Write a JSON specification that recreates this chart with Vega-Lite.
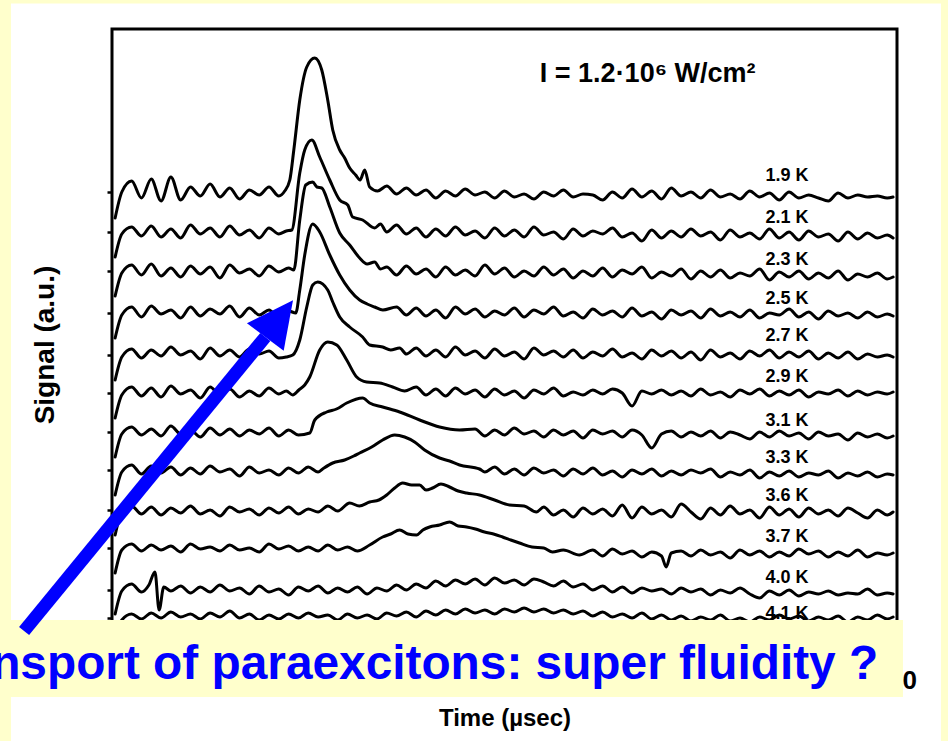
{
  "$schema": "https://vega.github.io/schema/vega-lite/v6.json",
  "width": 785,
  "height": 631,
  "autosize": {"type": "none"},
  "padding": {"left": 112, "top": 29, "right": 51, "bottom": 81},
  "background": "white",
  "config": {
    "font": "Liberation Sans",
    "view": {"stroke": "black", "strokeWidth": 3}
  },
  "layer": [
    {
      "data": {"values": [
        {"k":"1.9 K","t":0.04,"s":44.2},{"k":"1.9 K","t":0.125,"s":46.8},{"k":"1.9 K","t":0.25,"s":47.9},{"k":"1.9 K","t":0.375,"s":46.2},{"k":"1.9 K","t":0.5,"s":48.1},{"k":"1.9 K","t":0.625,"s":45.9},{"k":"1.9 K","t":0.75,"s":48.3},{"k":"1.9 K","t":0.875,"s":46.0},{"k":"1.9 K","t":1,"s":47.3},{"k":"1.9 K","t":1.125,"s":46.4},{"k":"1.9 K","t":1.25,"s":47.6},{"k":"1.9 K","t":1.375,"s":46.3},{"k":"1.9 K","t":1.5,"s":47.2},{"k":"1.9 K","t":1.625,"s":46.1},{"k":"1.9 K","t":1.75,"s":47.0},{"k":"1.9 K","t":1.875,"s":46.5},{"k":"1.9 K","t":2,"s":47.3},{"k":"1.9 K","t":2.125,"s":46.4},{"k":"1.9 K","t":2.2,"s":46.9},{"k":"1.9 K","t":2.265,"s":48.0},{"k":"1.9 K","t":2.316,"s":51.0},{"k":"1.9 K","t":2.392,"s":56.0},{"k":"1.9 K","t":2.481,"s":59.3},{"k":"1.9 K","t":2.583,"s":60.2},{"k":"1.9 K","t":2.672,"s":59.0},{"k":"1.9 K","t":2.748,"s":56.0},{"k":"1.9 K","t":2.812,"s":53.0},{"k":"1.9 K","t":2.901,"s":51.0},{"k":"1.9 K","t":2.964,"s":50.2},{"k":"1.9 K","t":3.028,"s":49.2},{"k":"1.9 K","t":3.104,"s":48.5},{"k":"1.9 K","t":3.16,"s":48.0},{"k":"1.9 K","t":3.219,"s":49.0},{"k":"1.9 K","t":3.282,"s":47.3},{"k":"1.9 K","t":3.384,"s":46.9},{"k":"1.9 K","t":3.5,"s":47.4},{"k":"1.9 K","t":3.625,"s":46.6},{"k":"1.9 K","t":3.75,"s":47.2},{"k":"1.9 K","t":3.875,"s":46.5},{"k":"1.9 K","t":4,"s":47.0},{"k":"1.9 K","t":4.125,"s":46.2},{"k":"1.9 K","t":4.25,"s":46.9},{"k":"1.9 K","t":4.375,"s":46.4},{"k":"1.9 K","t":4.5,"s":47.1},{"k":"1.9 K","t":4.625,"s":46.5},{"k":"1.9 K","t":4.75,"s":46.8},{"k":"1.9 K","t":4.875,"s":46.2},{"k":"1.9 K","t":5,"s":46.9},{"k":"1.9 K","t":5.125,"s":46.3},{"k":"1.9 K","t":5.25,"s":46.6},{"k":"1.9 K","t":5.375,"s":46.1},{"k":"1.9 K","t":5.5,"s":46.8},{"k":"1.9 K","t":5.625,"s":46.4},{"k":"1.9 K","t":5.75,"s":47.0},{"k":"1.9 K","t":5.875,"s":46.3},{"k":"1.9 K","t":6,"s":46.6},{"k":"1.9 K","t":6.125,"s":46.5},{"k":"1.9 K","t":6.25,"s":46.0},{"k":"1.9 K","t":6.375,"s":46.8},{"k":"1.9 K","t":6.5,"s":46.2},{"k":"1.9 K","t":6.625,"s":47.1},{"k":"1.9 K","t":6.75,"s":46.3},{"k":"1.9 K","t":6.875,"s":46.9},{"k":"1.9 K","t":7,"s":46.1},{"k":"1.9 K","t":7.125,"s":47.2},{"k":"1.9 K","t":7.25,"s":46.4},{"k":"1.9 K","t":7.375,"s":46.8},{"k":"1.9 K","t":7.5,"s":46.2},{"k":"1.9 K","t":7.625,"s":47.0},{"k":"1.9 K","t":7.75,"s":46.3},{"k":"1.9 K","t":7.875,"s":46.6},{"k":"1.9 K","t":8,"s":46.1},{"k":"1.9 K","t":8.125,"s":46.9},{"k":"1.9 K","t":8.25,"s":46.3},{"k":"1.9 K","t":8.375,"s":46.7},{"k":"1.9 K","t":8.5,"s":46.0},{"k":"1.9 K","t":8.625,"s":46.8},{"k":"1.9 K","t":8.75,"s":46.2},{"k":"1.9 K","t":8.875,"s":46.5},{"k":"1.9 K","t":9,"s":46.2},{"k":"1.9 K","t":9.125,"s":45.9},{"k":"1.9 K","t":9.25,"s":46.7},{"k":"1.9 K","t":9.375,"s":46.2},{"k":"1.9 K","t":9.5,"s":46.5},{"k":"1.9 K","t":9.625,"s":46.3},{"k":"1.9 K","t":9.75,"s":46.4},{"k":"1.9 K","t":9.875,"s":46.2},{"k":"1.9 K","t":9.95,"s":46.3},

        {"k":"2.1 K","t":0.04,"s":40.3},{"k":"2.1 K","t":0.125,"s":42.6},{"k":"2.1 K","t":0.25,"s":43.3},{"k":"2.1 K","t":0.375,"s":42.4},{"k":"2.1 K","t":0.5,"s":43.4},{"k":"2.1 K","t":0.625,"s":42.3},{"k":"2.1 K","t":0.75,"s":43.1},{"k":"2.1 K","t":0.875,"s":42.2},{"k":"2.1 K","t":1,"s":43.5},{"k":"2.1 K","t":1.125,"s":42.6},{"k":"2.1 K","t":1.25,"s":43.2},{"k":"2.1 K","t":1.375,"s":42.3},{"k":"2.1 K","t":1.5,"s":43.4},{"k":"2.1 K","t":1.625,"s":42.5},{"k":"2.1 K","t":1.75,"s":43.0},{"k":"2.1 K","t":1.875,"s":42.2},{"k":"2.1 K","t":2,"s":43.2},{"k":"2.1 K","t":2.125,"s":42.6},{"k":"2.1 K","t":2.22,"s":42.9},{"k":"2.1 K","t":2.29,"s":43.0},{"k":"2.1 K","t":2.392,"s":48.7},{"k":"2.1 K","t":2.455,"s":51.0},{"k":"2.1 K","t":2.545,"s":52.0},{"k":"2.1 K","t":2.646,"s":50.3},{"k":"2.1 K","t":2.774,"s":48.0},{"k":"2.1 K","t":2.901,"s":46.0},{"k":"2.1 K","t":3.003,"s":45.5},{"k":"2.1 K","t":3.066,"s":44.3},{"k":"2.1 K","t":3.193,"s":44.0},{"k":"2.1 K","t":3.346,"s":43.2},{"k":"2.1 K","t":3.42,"s":43.6},{"k":"2.1 K","t":3.5,"s":42.8},{"k":"2.1 K","t":3.625,"s":43.5},{"k":"2.1 K","t":3.75,"s":42.6},{"k":"2.1 K","t":3.875,"s":43.2},{"k":"2.1 K","t":4,"s":42.3},{"k":"2.1 K","t":4.125,"s":43.1},{"k":"2.1 K","t":4.25,"s":42.4},{"k":"2.1 K","t":4.375,"s":43.3},{"k":"2.1 K","t":4.5,"s":42.5},{"k":"2.1 K","t":4.625,"s":42.9},{"k":"2.1 K","t":4.75,"s":42.2},{"k":"2.1 K","t":4.875,"s":43.2},{"k":"2.1 K","t":5,"s":42.4},{"k":"2.1 K","t":5.125,"s":43.0},{"k":"2.1 K","t":5.25,"s":42.3},{"k":"2.1 K","t":5.375,"s":43.3},{"k":"2.1 K","t":5.5,"s":42.5},{"k":"2.1 K","t":5.625,"s":42.8},{"k":"2.1 K","t":5.75,"s":42.1},{"k":"2.1 K","t":5.875,"s":43.1},{"k":"2.1 K","t":6,"s":42.4},{"k":"2.1 K","t":6.125,"s":42.9},{"k":"2.1 K","t":6.25,"s":42.6},{"k":"2.1 K","t":6.375,"s":43.2},{"k":"2.1 K","t":6.5,"s":42.3},{"k":"2.1 K","t":6.625,"s":42.7},{"k":"2.1 K","t":6.75,"s":41.9},{"k":"2.1 K","t":6.875,"s":43.0},{"k":"2.1 K","t":7,"s":42.2},{"k":"2.1 K","t":7.125,"s":42.9},{"k":"2.1 K","t":7.25,"s":42.3},{"k":"2.1 K","t":7.375,"s":43.1},{"k":"2.1 K","t":7.5,"s":42.4},{"k":"2.1 K","t":7.625,"s":42.8},{"k":"2.1 K","t":7.75,"s":42.0},{"k":"2.1 K","t":7.875,"s":43.0},{"k":"2.1 K","t":8,"s":42.3},{"k":"2.1 K","t":8.125,"s":42.7},{"k":"2.1 K","t":8.25,"s":42.1},{"k":"2.1 K","t":8.375,"s":43.1},{"k":"2.1 K","t":8.5,"s":42.2},{"k":"2.1 K","t":8.625,"s":42.8},{"k":"2.1 K","t":8.75,"s":42.0},{"k":"2.1 K","t":8.875,"s":42.9},{"k":"2.1 K","t":9,"s":42.3},{"k":"2.1 K","t":9.125,"s":42.6},{"k":"2.1 K","t":9.25,"s":41.9},{"k":"2.1 K","t":9.375,"s":42.8},{"k":"2.1 K","t":9.5,"s":42.1},{"k":"2.1 K","t":9.625,"s":42.7},{"k":"2.1 K","t":9.75,"s":42.2},{"k":"2.1 K","t":9.875,"s":42.5},{"k":"2.1 K","t":9.95,"s":42.2},

        {"k":"2.3 K","t":0.04,"s":36.4},{"k":"2.3 K","t":0.125,"s":38.7},{"k":"2.3 K","t":0.25,"s":39.5},{"k":"2.3 K","t":0.375,"s":38.5},{"k":"2.3 K","t":0.5,"s":39.6},{"k":"2.3 K","t":0.625,"s":38.4},{"k":"2.3 K","t":0.75,"s":39.2},{"k":"2.3 K","t":0.875,"s":38.3},{"k":"2.3 K","t":1,"s":39.4},{"k":"2.3 K","t":1.125,"s":38.6},{"k":"2.3 K","t":1.25,"s":39.3},{"k":"2.3 K","t":1.375,"s":38.2},{"k":"2.3 K","t":1.5,"s":39.5},{"k":"2.3 K","t":1.625,"s":38.7},{"k":"2.3 K","t":1.75,"s":39.1},{"k":"2.3 K","t":1.875,"s":38.4},{"k":"2.3 K","t":2,"s":39.4},{"k":"2.3 K","t":2.125,"s":38.8},{"k":"2.3 K","t":2.25,"s":39.2},{"k":"2.3 K","t":2.316,"s":39.0},{"k":"2.3 K","t":2.392,"s":44.0},{"k":"2.3 K","t":2.468,"s":47.5},{"k":"2.3 K","t":2.557,"s":47.8},{"k":"2.3 K","t":2.61,"s":47.3},{"k":"2.3 K","t":2.672,"s":47.2},{"k":"2.3 K","t":2.774,"s":45.3},{"k":"2.3 K","t":2.901,"s":42.7},{"k":"2.3 K","t":3.028,"s":41.5},{"k":"2.3 K","t":3.155,"s":40.2},{"k":"2.3 K","t":3.25,"s":39.6},{"k":"2.3 K","t":3.346,"s":39.8},{"k":"2.3 K","t":3.42,"s":39.1},{"k":"2.3 K","t":3.5,"s":39.3},{"k":"2.3 K","t":3.625,"s":38.5},{"k":"2.3 K","t":3.75,"s":39.4},{"k":"2.3 K","t":3.875,"s":38.6},{"k":"2.3 K","t":4,"s":39.1},{"k":"2.3 K","t":4.125,"s":38.3},{"k":"2.3 K","t":4.25,"s":39.3},{"k":"2.3 K","t":4.375,"s":38.5},{"k":"2.3 K","t":4.5,"s":39.0},{"k":"2.3 K","t":4.625,"s":38.4},{"k":"2.3 K","t":4.75,"s":39.5},{"k":"2.3 K","t":4.875,"s":38.6},{"k":"2.3 K","t":5,"s":39.2},{"k":"2.3 K","t":5.125,"s":38.3},{"k":"2.3 K","t":5.25,"s":38.9},{"k":"2.3 K","t":5.375,"s":38.4},{"k":"2.3 K","t":5.5,"s":39.3},{"k":"2.3 K","t":5.625,"s":38.5},{"k":"2.3 K","t":5.75,"s":39.1},{"k":"2.3 K","t":5.875,"s":38.2},{"k":"2.3 K","t":6,"s":38.9},{"k":"2.3 K","t":6.125,"s":38.4},{"k":"2.3 K","t":6.25,"s":39.2},{"k":"2.3 K","t":6.375,"s":38.3},{"k":"2.3 K","t":6.5,"s":39.0},{"k":"2.3 K","t":6.625,"s":38.6},{"k":"2.3 K","t":6.75,"s":39.3},{"k":"2.3 K","t":6.875,"s":38.2},{"k":"2.3 K","t":7,"s":38.8},{"k":"2.3 K","t":7.125,"s":38.4},{"k":"2.3 K","t":7.25,"s":39.1},{"k":"2.3 K","t":7.375,"s":38.1},{"k":"2.3 K","t":7.5,"s":38.9},{"k":"2.3 K","t":7.625,"s":38.3},{"k":"2.3 K","t":7.75,"s":39.0},{"k":"2.3 K","t":7.875,"s":38.2},{"k":"2.3 K","t":8,"s":38.7},{"k":"2.3 K","t":8.125,"s":38.4},{"k":"2.3 K","t":8.25,"s":39.1},{"k":"2.3 K","t":8.375,"s":38.0},{"k":"2.3 K","t":8.5,"s":38.8},{"k":"2.3 K","t":8.625,"s":38.3},{"k":"2.3 K","t":8.75,"s":38.9},{"k":"2.3 K","t":8.875,"s":38.1},{"k":"2.3 K","t":9,"s":38.7},{"k":"2.3 K","t":9.125,"s":38.2},{"k":"2.3 K","t":9.25,"s":38.9},{"k":"2.3 K","t":9.375,"s":38.0},{"k":"2.3 K","t":9.5,"s":38.6},{"k":"2.3 K","t":9.625,"s":38.3},{"k":"2.3 K","t":9.75,"s":38.7},{"k":"2.3 K","t":9.875,"s":38.1},{"k":"2.3 K","t":9.95,"s":38.3},

        {"k":"2.5 K","t":0.04,"s":32.2},{"k":"2.5 K","t":0.125,"s":34.5},{"k":"2.5 K","t":0.25,"s":35.3},{"k":"2.5 K","t":0.375,"s":34.3},{"k":"2.5 K","t":0.5,"s":35.4},{"k":"2.5 K","t":0.625,"s":34.6},{"k":"2.5 K","t":0.75,"s":35.0},{"k":"2.5 K","t":0.875,"s":34.2},{"k":"2.5 K","t":1,"s":35.3},{"k":"2.5 K","t":1.125,"s":34.4},{"k":"2.5 K","t":1.25,"s":35.1},{"k":"2.5 K","t":1.375,"s":34.6},{"k":"2.5 K","t":1.5,"s":35.4},{"k":"2.5 K","t":1.625,"s":34.3},{"k":"2.5 K","t":1.75,"s":35.2},{"k":"2.5 K","t":1.875,"s":34.5},{"k":"2.5 K","t":2,"s":35.0},{"k":"2.5 K","t":2.125,"s":34.2},{"k":"2.5 K","t":2.25,"s":34.9},{"k":"2.5 K","t":2.341,"s":34.7},{"k":"2.5 K","t":2.392,"s":37.0},{"k":"2.5 K","t":2.455,"s":40.5},{"k":"2.5 K","t":2.557,"s":43.6},{"k":"2.5 K","t":2.646,"s":42.8},{"k":"2.5 K","t":2.774,"s":40.5},{"k":"2.5 K","t":2.901,"s":38.5},{"k":"2.5 K","t":3.028,"s":37.0},{"k":"2.5 K","t":3.155,"s":36.0},{"k":"2.5 K","t":3.25,"s":35.6},{"k":"2.5 K","t":3.346,"s":35.3},{"k":"2.5 K","t":3.45,"s":35.0},{"k":"2.5 K","t":3.625,"s":35.3},{"k":"2.5 K","t":3.75,"s":34.5},{"k":"2.5 K","t":3.875,"s":35.2},{"k":"2.5 K","t":4,"s":34.4},{"k":"2.5 K","t":4.125,"s":35.0},{"k":"2.5 K","t":4.25,"s":34.2},{"k":"2.5 K","t":4.375,"s":35.3},{"k":"2.5 K","t":4.5,"s":34.6},{"k":"2.5 K","t":4.625,"s":35.1},{"k":"2.5 K","t":4.75,"s":34.3},{"k":"2.5 K","t":4.875,"s":34.9},{"k":"2.5 K","t":5,"s":34.5},{"k":"2.5 K","t":5.125,"s":35.2},{"k":"2.5 K","t":5.25,"s":34.3},{"k":"2.5 K","t":5.375,"s":35.0},{"k":"2.5 K","t":5.5,"s":34.6},{"k":"2.5 K","t":5.625,"s":35.3},{"k":"2.5 K","t":5.75,"s":34.4},{"k":"2.5 K","t":5.875,"s":34.8},{"k":"2.5 K","t":6,"s":34.2},{"k":"2.5 K","t":6.125,"s":35.1},{"k":"2.5 K","t":6.25,"s":34.5},{"k":"2.5 K","t":6.375,"s":34.9},{"k":"2.5 K","t":6.5,"s":34.3},{"k":"2.5 K","t":6.625,"s":35.2},{"k":"2.5 K","t":6.75,"s":34.4},{"k":"2.5 K","t":6.875,"s":34.8},{"k":"2.5 K","t":7,"s":34.1},{"k":"2.5 K","t":7.125,"s":35.0},{"k":"2.5 K","t":7.25,"s":34.5},{"k":"2.5 K","t":7.375,"s":34.9},{"k":"2.5 K","t":7.5,"s":34.2},{"k":"2.5 K","t":7.625,"s":35.1},{"k":"2.5 K","t":7.75,"s":34.4},{"k":"2.5 K","t":7.875,"s":34.8},{"k":"2.5 K","t":8,"s":34.3},{"k":"2.5 K","t":8.125,"s":35.0},{"k":"2.5 K","t":8.25,"s":34.2},{"k":"2.5 K","t":8.375,"s":34.7},{"k":"2.5 K","t":8.5,"s":34.5},{"k":"2.5 K","t":8.625,"s":35.1},{"k":"2.5 K","t":8.75,"s":34.3},{"k":"2.5 K","t":8.875,"s":34.8},{"k":"2.5 K","t":9,"s":34.1},{"k":"2.5 K","t":9.125,"s":34.9},{"k":"2.5 K","t":9.25,"s":34.4},{"k":"2.5 K","t":9.375,"s":34.7},{"k":"2.5 K","t":9.5,"s":34.2},{"k":"2.5 K","t":9.625,"s":34.8},{"k":"2.5 K","t":9.75,"s":34.3},{"k":"2.5 K","t":9.875,"s":34.6},{"k":"2.5 K","t":9.95,"s":34.4},

        {"k":"2.7 K","t":0.04,"s":28.0},{"k":"2.7 K","t":0.125,"s":30.3},{"k":"2.7 K","t":0.25,"s":31.1},{"k":"2.7 K","t":0.375,"s":30.2},{"k":"2.7 K","t":0.5,"s":31.0},{"k":"2.7 K","t":0.625,"s":30.4},{"k":"2.7 K","t":0.75,"s":31.3},{"k":"2.7 K","t":0.875,"s":30.5},{"k":"2.7 K","t":1,"s":30.9},{"k":"2.7 K","t":1.125,"s":30.1},{"k":"2.7 K","t":1.25,"s":31.2},{"k":"2.7 K","t":1.375,"s":30.4},{"k":"2.7 K","t":1.5,"s":31.0},{"k":"2.7 K","t":1.625,"s":30.3},{"k":"2.7 K","t":1.75,"s":31.1},{"k":"2.7 K","t":1.875,"s":30.6},{"k":"2.7 K","t":2,"s":30.9},{"k":"2.7 K","t":2.125,"s":30.2},{"k":"2.7 K","t":2.22,"s":30.3},{"k":"2.7 K","t":2.303,"s":30.5},{"k":"2.7 K","t":2.392,"s":32.0},{"k":"2.7 K","t":2.481,"s":35.3},{"k":"2.7 K","t":2.557,"s":37.5},{"k":"2.7 K","t":2.621,"s":37.8},{"k":"2.7 K","t":2.748,"s":37.0},{"k":"2.7 K","t":2.812,"s":35.8},{"k":"2.7 K","t":2.901,"s":34.3},{"k":"2.7 K","t":3.028,"s":33.3},{"k":"2.7 K","t":3.193,"s":32.3},{"k":"2.7 K","t":3.282,"s":31.5},{"k":"2.7 K","t":3.448,"s":31.3},{"k":"2.7 K","t":3.55,"s":31.0},{"k":"2.7 K","t":3.664,"s":31.2},{"k":"2.7 K","t":3.75,"s":30.6},{"k":"2.7 K","t":3.875,"s":31.2},{"k":"2.7 K","t":4,"s":30.4},{"k":"2.7 K","t":4.125,"s":31.0},{"k":"2.7 K","t":4.25,"s":30.3},{"k":"2.7 K","t":4.375,"s":31.3},{"k":"2.7 K","t":4.5,"s":30.5},{"k":"2.7 K","t":4.625,"s":30.9},{"k":"2.7 K","t":4.75,"s":30.2},{"k":"2.7 K","t":4.875,"s":31.1},{"k":"2.7 K","t":5,"s":30.4},{"k":"2.7 K","t":5.125,"s":30.8},{"k":"2.7 K","t":5.25,"s":30.1},{"k":"2.7 K","t":5.375,"s":31.2},{"k":"2.7 K","t":5.5,"s":30.5},{"k":"2.7 K","t":5.625,"s":30.9},{"k":"2.7 K","t":5.75,"s":30.3},{"k":"2.7 K","t":5.875,"s":31.0},{"k":"2.7 K","t":6,"s":30.2},{"k":"2.7 K","t":6.125,"s":30.8},{"k":"2.7 K","t":6.25,"s":30.4},{"k":"2.7 K","t":6.375,"s":31.1},{"k":"2.7 K","t":6.5,"s":30.3},{"k":"2.7 K","t":6.625,"s":30.7},{"k":"2.7 K","t":6.75,"s":30.1},{"k":"2.7 K","t":6.875,"s":31.0},{"k":"2.7 K","t":7,"s":30.4},{"k":"2.7 K","t":7.125,"s":30.9},{"k":"2.7 K","t":7.25,"s":30.2},{"k":"2.7 K","t":7.375,"s":30.8},{"k":"2.7 K","t":7.5,"s":30.0},{"k":"2.7 K","t":7.625,"s":31.0},{"k":"2.7 K","t":7.75,"s":30.3},{"k":"2.7 K","t":7.875,"s":30.7},{"k":"2.7 K","t":8,"s":30.1},{"k":"2.7 K","t":8.125,"s":30.9},{"k":"2.7 K","t":8.25,"s":30.4},{"k":"2.7 K","t":8.375,"s":31.0},{"k":"2.7 K","t":8.5,"s":30.2},{"k":"2.7 K","t":8.625,"s":30.8},{"k":"2.7 K","t":8.75,"s":30.3},{"k":"2.7 K","t":8.875,"s":30.9},{"k":"2.7 K","t":9,"s":30.1},{"k":"2.7 K","t":9.125,"s":30.7},{"k":"2.7 K","t":9.25,"s":30.2},{"k":"2.7 K","t":9.375,"s":30.8},{"k":"2.7 K","t":9.5,"s":30.1},{"k":"2.7 K","t":9.625,"s":30.6},{"k":"2.7 K","t":9.75,"s":30.3},{"k":"2.7 K","t":9.875,"s":30.5},{"k":"2.7 K","t":9.95,"s":30.3},

        {"k":"2.9 K","t":0.04,"s":24.2},{"k":"2.9 K","t":0.125,"s":26.5},{"k":"2.9 K","t":0.25,"s":27.3},{"k":"2.9 K","t":0.375,"s":26.4},{"k":"2.9 K","t":0.5,"s":27.2},{"k":"2.9 K","t":0.625,"s":26.3},{"k":"2.9 K","t":0.75,"s":27.4},{"k":"2.9 K","t":0.875,"s":26.6},{"k":"2.9 K","t":1,"s":27.0},{"k":"2.9 K","t":1.125,"s":26.2},{"k":"2.9 K","t":1.25,"s":27.3},{"k":"2.9 K","t":1.375,"s":26.5},{"k":"2.9 K","t":1.5,"s":27.1},{"k":"2.9 K","t":1.625,"s":26.3},{"k":"2.9 K","t":1.75,"s":26.9},{"k":"2.9 K","t":1.875,"s":26.4},{"k":"2.9 K","t":2,"s":27.2},{"k":"2.9 K","t":2.125,"s":26.6},{"k":"2.9 K","t":2.22,"s":26.9},{"k":"2.9 K","t":2.303,"s":26.5},{"k":"2.9 K","t":2.38,"s":27.0},{"k":"2.9 K","t":2.455,"s":27.5},{"k":"2.9 K","t":2.519,"s":28.3},{"k":"2.9 K","t":2.646,"s":31.0},{"k":"2.9 K","t":2.748,"s":31.8},{"k":"2.9 K","t":2.863,"s":31.5},{"k":"2.9 K","t":2.99,"s":30.0},{"k":"2.9 K","t":3.117,"s":28.3},{"k":"2.9 K","t":3.244,"s":27.8},{"k":"2.9 K","t":3.41,"s":27.7},{"k":"2.9 K","t":3.575,"s":27.3},{"k":"2.9 K","t":3.728,"s":26.9},{"k":"2.9 K","t":3.875,"s":27.3},{"k":"2.9 K","t":4,"s":26.5},{"k":"2.9 K","t":4.125,"s":27.1},{"k":"2.9 K","t":4.25,"s":26.4},{"k":"2.9 K","t":4.375,"s":27.2},{"k":"2.9 K","t":4.5,"s":26.6},{"k":"2.9 K","t":4.625,"s":27.0},{"k":"2.9 K","t":4.75,"s":26.3},{"k":"2.9 K","t":4.875,"s":27.1},{"k":"2.9 K","t":5,"s":26.5},{"k":"2.9 K","t":5.125,"s":26.9},{"k":"2.9 K","t":5.25,"s":26.2},{"k":"2.9 K","t":5.375,"s":27.0},{"k":"2.9 K","t":5.5,"s":26.6},{"k":"2.9 K","t":5.625,"s":27.2},{"k":"2.9 K","t":5.75,"s":26.4},{"k":"2.9 K","t":5.875,"s":26.8},{"k":"2.9 K","t":6,"s":26.5},{"k":"2.9 K","t":6.125,"s":27.0},{"k":"2.9 K","t":6.25,"s":26.6},{"k":"2.9 K","t":6.375,"s":27.1},{"k":"2.9 K","t":6.5,"s":26.7},{"k":"2.9 K","t":6.625,"s":25.4},{"k":"2.9 K","t":6.75,"s":26.9},{"k":"2.9 K","t":6.875,"s":26.6},{"k":"2.9 K","t":7,"s":27.0},{"k":"2.9 K","t":7.125,"s":26.5},{"k":"2.9 K","t":7.25,"s":26.9},{"k":"2.9 K","t":7.375,"s":26.4},{"k":"2.9 K","t":7.5,"s":27.1},{"k":"2.9 K","t":7.625,"s":26.5},{"k":"2.9 K","t":7.75,"s":26.8},{"k":"2.9 K","t":7.875,"s":26.3},{"k":"2.9 K","t":8,"s":27.0},{"k":"2.9 K","t":8.125,"s":26.6},{"k":"2.9 K","t":8.25,"s":27.1},{"k":"2.9 K","t":8.375,"s":26.4},{"k":"2.9 K","t":8.5,"s":26.9},{"k":"2.9 K","t":8.625,"s":26.5},{"k":"2.9 K","t":8.75,"s":27.0},{"k":"2.9 K","t":8.875,"s":26.3},{"k":"2.9 K","t":9,"s":26.8},{"k":"2.9 K","t":9.125,"s":26.6},{"k":"2.9 K","t":9.25,"s":27.0},{"k":"2.9 K","t":9.375,"s":26.4},{"k":"2.9 K","t":9.5,"s":26.9},{"k":"2.9 K","t":9.625,"s":26.5},{"k":"2.9 K","t":9.75,"s":26.8},{"k":"2.9 K","t":9.875,"s":26.6},{"k":"2.9 K","t":9.95,"s":26.8},

        {"k":"3.1 K","t":0.04,"s":20.3},{"k":"3.1 K","t":0.125,"s":22.6},{"k":"3.1 K","t":0.25,"s":23.3},{"k":"3.1 K","t":0.375,"s":22.5},{"k":"3.1 K","t":0.5,"s":23.1},{"k":"3.1 K","t":0.625,"s":22.4},{"k":"3.1 K","t":0.75,"s":23.4},{"k":"3.1 K","t":0.875,"s":22.6},{"k":"3.1 K","t":1,"s":23.0},{"k":"3.1 K","t":1.125,"s":22.3},{"k":"3.1 K","t":1.25,"s":23.2},{"k":"3.1 K","t":1.375,"s":22.5},{"k":"3.1 K","t":1.5,"s":23.1},{"k":"3.1 K","t":1.625,"s":22.4},{"k":"3.1 K","t":1.75,"s":23.0},{"k":"3.1 K","t":1.875,"s":22.6},{"k":"3.1 K","t":2,"s":23.2},{"k":"3.1 K","t":2.125,"s":22.4},{"k":"3.1 K","t":2.25,"s":23.0},{"k":"3.1 K","t":2.375,"s":22.5},{"k":"3.1 K","t":2.519,"s":22.7},{"k":"3.1 K","t":2.583,"s":24.0},{"k":"3.1 K","t":2.735,"s":24.8},{"k":"3.1 K","t":2.86,"s":25.1},{"k":"3.1 K","t":2.99,"s":25.7},{"k":"3.1 K","t":3.193,"s":26.2},{"k":"3.1 K","t":3.282,"s":25.7},{"k":"3.1 K","t":3.448,"s":25.3},{"k":"3.1 K","t":3.664,"s":24.8},{"k":"3.1 K","t":3.919,"s":24.0},{"k":"3.1 K","t":4.173,"s":23.3},{"k":"3.1 K","t":4.427,"s":23.0},{"k":"3.1 K","t":4.625,"s":23.1},{"k":"3.1 K","t":4.75,"s":22.4},{"k":"3.1 K","t":4.875,"s":23.0},{"k":"3.1 K","t":5,"s":22.5},{"k":"3.1 K","t":5.125,"s":23.2},{"k":"3.1 K","t":5.25,"s":22.6},{"k":"3.1 K","t":5.375,"s":22.9},{"k":"3.1 K","t":5.5,"s":22.3},{"k":"3.1 K","t":5.625,"s":23.0},{"k":"3.1 K","t":5.75,"s":22.5},{"k":"3.1 K","t":5.875,"s":22.9},{"k":"3.1 K","t":6,"s":22.2},{"k":"3.1 K","t":6.125,"s":23.0},{"k":"3.1 K","t":6.25,"s":22.6},{"k":"3.1 K","t":6.375,"s":22.9},{"k":"3.1 K","t":6.5,"s":22.3},{"k":"3.1 K","t":6.625,"s":23.0},{"k":"3.1 K","t":6.75,"s":22.5},{"k":"3.1 K","t":6.875,"s":21.2},{"k":"3.1 K","t":7,"s":22.6},{"k":"3.1 K","t":7.125,"s":22.9},{"k":"3.1 K","t":7.25,"s":22.3},{"k":"3.1 K","t":7.375,"s":22.8},{"k":"3.1 K","t":7.5,"s":22.4},{"k":"3.1 K","t":7.625,"s":22.9},{"k":"3.1 K","t":7.75,"s":22.2},{"k":"3.1 K","t":7.875,"s":22.8},{"k":"3.1 K","t":8,"s":22.5},{"k":"3.1 K","t":8.125,"s":22.1},{"k":"3.1 K","t":8.25,"s":22.8},{"k":"3.1 K","t":8.375,"s":22.3},{"k":"3.1 K","t":8.5,"s":22.9},{"k":"3.1 K","t":8.625,"s":22.4},{"k":"3.1 K","t":8.75,"s":22.7},{"k":"3.1 K","t":8.875,"s":22.1},{"k":"3.1 K","t":9,"s":22.8},{"k":"3.1 K","t":9.125,"s":22.4},{"k":"3.1 K","t":9.25,"s":22.6},{"k":"3.1 K","t":9.375,"s":22.0},{"k":"3.1 K","t":9.5,"s":22.7},{"k":"3.1 K","t":9.625,"s":22.3},{"k":"3.1 K","t":9.75,"s":22.6},{"k":"3.1 K","t":9.875,"s":22.2},{"k":"3.1 K","t":9.95,"s":22.4},

        {"k":"3.3 K","t":0.04,"s":16.5},{"k":"3.3 K","t":0.125,"s":18.8},{"k":"3.3 K","t":0.25,"s":19.5},{"k":"3.3 K","t":0.375,"s":18.6},{"k":"3.3 K","t":0.5,"s":19.4},{"k":"3.3 K","t":0.625,"s":18.7},{"k":"3.3 K","t":0.75,"s":19.3},{"k":"3.3 K","t":0.875,"s":18.5},{"k":"3.3 K","t":1,"s":19.2},{"k":"3.3 K","t":1.125,"s":18.6},{"k":"3.3 K","t":1.25,"s":19.4},{"k":"3.3 K","t":1.375,"s":18.8},{"k":"3.3 K","t":1.5,"s":19.1},{"k":"3.3 K","t":1.625,"s":18.4},{"k":"3.3 K","t":1.75,"s":19.3},{"k":"3.3 K","t":1.875,"s":18.7},{"k":"3.3 K","t":2,"s":19.0},{"k":"3.3 K","t":2.125,"s":18.5},{"k":"3.3 K","t":2.25,"s":19.2},{"k":"3.3 K","t":2.375,"s":18.7},{"k":"3.3 K","t":2.5,"s":19.3},{"k":"3.3 K","t":2.625,"s":18.8},{"k":"3.3 K","t":2.7,"s":19.2},{"k":"3.3 K","t":2.812,"s":19.7},{"k":"3.3 K","t":2.964,"s":20.0},{"k":"3.3 K","t":3.08,"s":20.4},{"k":"3.3 K","t":3.155,"s":20.7},{"k":"3.3 K","t":3.308,"s":21.3},{"k":"3.3 K","t":3.448,"s":22.0},{"k":"3.3 K","t":3.601,"s":22.5},{"k":"3.3 K","t":3.728,"s":22.3},{"k":"3.3 K","t":3.855,"s":21.8},{"k":"3.3 K","t":3.982,"s":21.0},{"k":"3.3 K","t":4.173,"s":20.2},{"k":"3.3 K","t":4.3,"s":19.9},{"k":"3.3 K","t":4.427,"s":19.5},{"k":"3.3 K","t":4.682,"s":19.1},{"k":"3.3 K","t":4.75,"s":18.8},{"k":"3.3 K","t":4.875,"s":19.3},{"k":"3.3 K","t":5,"s":18.6},{"k":"3.3 K","t":5.125,"s":19.1},{"k":"3.3 K","t":5.25,"s":18.5},{"k":"3.3 K","t":5.375,"s":19.2},{"k":"3.3 K","t":5.5,"s":18.7},{"k":"3.3 K","t":5.625,"s":19.0},{"k":"3.3 K","t":5.75,"s":18.4},{"k":"3.3 K","t":5.875,"s":19.1},{"k":"3.3 K","t":6,"s":18.6},{"k":"3.3 K","t":6.125,"s":19.2},{"k":"3.3 K","t":6.25,"s":18.5},{"k":"3.3 K","t":6.375,"s":18.9},{"k":"3.3 K","t":6.5,"s":18.3},{"k":"3.3 K","t":6.625,"s":19.0},{"k":"3.3 K","t":6.75,"s":18.6},{"k":"3.3 K","t":6.875,"s":19.1},{"k":"3.3 K","t":7,"s":18.4},{"k":"3.3 K","t":7.125,"s":18.9},{"k":"3.3 K","t":7.25,"s":18.5},{"k":"3.3 K","t":7.375,"s":19.0},{"k":"3.3 K","t":7.5,"s":18.7},{"k":"3.3 K","t":7.625,"s":19.1},{"k":"3.3 K","t":7.75,"s":18.3},{"k":"3.3 K","t":7.875,"s":18.8},{"k":"3.3 K","t":8,"s":18.5},{"k":"3.3 K","t":8.125,"s":19.0},{"k":"3.3 K","t":8.25,"s":18.2},{"k":"3.3 K","t":8.375,"s":18.8},{"k":"3.3 K","t":8.5,"s":18.4},{"k":"3.3 K","t":8.625,"s":18.9},{"k":"3.3 K","t":8.75,"s":18.3},{"k":"3.3 K","t":8.875,"s":18.7},{"k":"3.3 K","t":9,"s":18.5},{"k":"3.3 K","t":9.125,"s":18.9},{"k":"3.3 K","t":9.25,"s":18.2},{"k":"3.3 K","t":9.375,"s":18.7},{"k":"3.3 K","t":9.5,"s":18.4},{"k":"3.3 K","t":9.625,"s":18.8},{"k":"3.3 K","t":9.75,"s":18.3},{"k":"3.3 K","t":9.875,"s":18.6},{"k":"3.3 K","t":9.95,"s":18.5},

        {"k":"3.6 K","t":0.04,"s":12.5},{"k":"3.6 K","t":0.125,"s":14.8},{"k":"3.6 K","t":0.25,"s":15.4},{"k":"3.6 K","t":0.375,"s":14.6},{"k":"3.6 K","t":0.5,"s":15.3},{"k":"3.6 K","t":0.625,"s":14.5},{"k":"3.6 K","t":0.75,"s":15.2},{"k":"3.6 K","t":0.875,"s":14.7},{"k":"3.6 K","t":1,"s":15.4},{"k":"3.6 K","t":1.125,"s":14.6},{"k":"3.6 K","t":1.25,"s":15.0},{"k":"3.6 K","t":1.375,"s":14.4},{"k":"3.6 K","t":1.5,"s":15.3},{"k":"3.6 K","t":1.625,"s":14.8},{"k":"3.6 K","t":1.75,"s":15.1},{"k":"3.6 K","t":1.875,"s":14.5},{"k":"3.6 K","t":2,"s":15.2},{"k":"3.6 K","t":2.125,"s":14.7},{"k":"3.6 K","t":2.25,"s":15.3},{"k":"3.6 K","t":2.375,"s":14.6},{"k":"3.6 K","t":2.5,"s":15.1},{"k":"3.6 K","t":2.625,"s":14.8},{"k":"3.6 K","t":2.75,"s":15.4},{"k":"3.6 K","t":2.875,"s":14.9},{"k":"3.6 K","t":3.028,"s":15.7},{"k":"3.6 K","t":3.15,"s":15.4},{"k":"3.6 K","t":3.282,"s":15.8},{"k":"3.6 K","t":3.4,"s":16.0},{"k":"3.6 K","t":3.499,"s":16.5},{"k":"3.6 K","t":3.601,"s":17.2},{"k":"3.6 K","t":3.702,"s":17.7},{"k":"3.6 K","t":3.817,"s":17.5},{"k":"3.6 K","t":3.919,"s":17.5},{"k":"3.6 K","t":4.0,"s":17.0},{"k":"3.6 K","t":4.084,"s":17.2},{"k":"3.6 K","t":4.19,"s":17.6},{"k":"3.6 K","t":4.3,"s":17.3},{"k":"3.6 K","t":4.41,"s":16.9},{"k":"3.6 K","t":4.517,"s":16.7},{"k":"3.6 K","t":4.682,"s":16.5},{"k":"3.6 K","t":4.873,"s":16.0},{"k":"3.6 K","t":5.064,"s":15.5},{"k":"3.6 K","t":5.25,"s":15.4},{"k":"3.6 K","t":5.407,"s":14.8},{"k":"3.6 K","t":5.5,"s":15.3},{"k":"3.6 K","t":5.625,"s":14.5},{"k":"3.6 K","t":5.75,"s":15.0},{"k":"3.6 K","t":5.875,"s":14.3},{"k":"3.6 K","t":6,"s":15.2},{"k":"3.6 K","t":6.125,"s":14.6},{"k":"3.6 K","t":6.25,"s":15.1},{"k":"3.6 K","t":6.375,"s":14.4},{"k":"3.6 K","t":6.5,"s":15.5},{"k":"3.6 K","t":6.625,"s":14.2},{"k":"3.6 K","t":6.75,"s":15.3},{"k":"3.6 K","t":6.875,"s":14.6},{"k":"3.6 K","t":7,"s":15.0},{"k":"3.6 K","t":7.125,"s":14.3},{"k":"3.6 K","t":7.25,"s":15.6},{"k":"3.6 K","t":7.375,"s":14.8},{"k":"3.6 K","t":7.5,"s":14.1},{"k":"3.6 K","t":7.625,"s":15.2},{"k":"3.6 K","t":7.75,"s":14.5},{"k":"3.6 K","t":7.875,"s":15.4},{"k":"3.6 K","t":8,"s":14.6},{"k":"3.6 K","t":8.125,"s":15.0},{"k":"3.6 K","t":8.25,"s":14.2},{"k":"3.6 K","t":8.375,"s":15.3},{"k":"3.6 K","t":8.5,"s":14.5},{"k":"3.6 K","t":8.625,"s":15.1},{"k":"3.6 K","t":8.75,"s":14.3},{"k":"3.6 K","t":8.875,"s":15.2},{"k":"3.6 K","t":9,"s":14.6},{"k":"3.6 K","t":9.125,"s":15.0},{"k":"3.6 K","t":9.25,"s":14.4},{"k":"3.6 K","t":9.375,"s":15.2},{"k":"3.6 K","t":9.5,"s":14.7},{"k":"3.6 K","t":9.625,"s":14.2},{"k":"3.6 K","t":9.75,"s":15.0},{"k":"3.6 K","t":9.875,"s":14.5},{"k":"3.6 K","t":9.95,"s":14.8},

        {"k":"3.7 K","t":0.04,"s":8.7},{"k":"3.7 K","t":0.125,"s":11.0},{"k":"3.7 K","t":0.25,"s":11.6},{"k":"3.7 K","t":0.375,"s":10.9},{"k":"3.7 K","t":0.5,"s":11.5},{"k":"3.7 K","t":0.625,"s":11.0},{"k":"3.7 K","t":0.75,"s":11.4},{"k":"3.7 K","t":0.875,"s":10.8},{"k":"3.7 K","t":1,"s":11.6},{"k":"3.7 K","t":1.125,"s":11.1},{"k":"3.7 K","t":1.25,"s":11.3},{"k":"3.7 K","t":1.375,"s":10.9},{"k":"3.7 K","t":1.5,"s":11.5},{"k":"3.7 K","t":1.625,"s":11.0},{"k":"3.7 K","t":1.75,"s":11.2},{"k":"3.7 K","t":1.875,"s":10.8},{"k":"3.7 K","t":2,"s":11.6},{"k":"3.7 K","t":2.125,"s":11.1},{"k":"3.7 K","t":2.25,"s":11.4},{"k":"3.7 K","t":2.375,"s":10.9},{"k":"3.7 K","t":2.5,"s":11.3},{"k":"3.7 K","t":2.625,"s":10.9},{"k":"3.7 K","t":2.75,"s":11.5},{"k":"3.7 K","t":2.875,"s":11.0},{"k":"3.7 K","t":3,"s":11.3},{"k":"3.7 K","t":3.125,"s":10.9},{"k":"3.7 K","t":3.282,"s":11.5},{"k":"3.7 K","t":3.448,"s":12.3},{"k":"3.7 K","t":3.55,"s":12.6},{"k":"3.7 K","t":3.664,"s":13.0},{"k":"3.7 K","t":3.77,"s":12.6},{"k":"3.7 K","t":3.88,"s":12.5},{"k":"3.7 K","t":3.96,"s":13.0},{"k":"3.7 K","t":4.046,"s":13.3},{"k":"3.7 K","t":4.173,"s":13.5},{"k":"3.7 K","t":4.3,"s":13.8},{"k":"3.7 K","t":4.41,"s":13.4},{"k":"3.7 K","t":4.517,"s":13.3},{"k":"3.7 K","t":4.63,"s":13.1},{"k":"3.7 K","t":4.746,"s":12.8},{"k":"3.7 K","t":4.86,"s":12.6},{"k":"3.7 K","t":4.975,"s":12.3},{"k":"3.7 K","t":5.08,"s":12.0},{"k":"3.7 K","t":5.191,"s":11.7},{"k":"3.7 K","t":5.35,"s":11.3},{"k":"3.7 K","t":5.5,"s":11.2},{"k":"3.7 K","t":5.611,"s":10.8},{"k":"3.7 K","t":5.75,"s":11.0},{"k":"3.7 K","t":5.954,"s":10.5},{"k":"3.7 K","t":6.125,"s":11.0},{"k":"3.7 K","t":6.25,"s":10.4},{"k":"3.7 K","t":6.375,"s":11.1},{"k":"3.7 K","t":6.5,"s":10.6},{"k":"3.7 K","t":6.625,"s":10.9},{"k":"3.7 K","t":6.75,"s":10.3},{"k":"3.7 K","t":6.875,"s":10.8},{"k":"3.7 K","t":7,"s":10.4},{"k":"3.7 K","t":7.06,"s":9.3},{"k":"3.7 K","t":7.125,"s":10.7},{"k":"3.7 K","t":7.25,"s":10.9},{"k":"3.7 K","t":7.375,"s":10.4},{"k":"3.7 K","t":7.5,"s":11.0},{"k":"3.7 K","t":7.625,"s":10.5},{"k":"3.7 K","t":7.75,"s":10.8},{"k":"3.7 K","t":7.875,"s":10.2},{"k":"3.7 K","t":8,"s":11.0},{"k":"3.7 K","t":8.125,"s":10.5},{"k":"3.7 K","t":8.25,"s":10.9},{"k":"3.7 K","t":8.375,"s":10.3},{"k":"3.7 K","t":8.5,"s":10.8},{"k":"3.7 K","t":8.625,"s":10.4},{"k":"3.7 K","t":8.75,"s":11.1},{"k":"3.7 K","t":8.875,"s":10.6},{"k":"3.7 K","t":9,"s":10.9},{"k":"3.7 K","t":9.125,"s":10.3},{"k":"3.7 K","t":9.25,"s":10.8},{"k":"3.7 K","t":9.375,"s":10.4},{"k":"3.7 K","t":9.5,"s":11.0},{"k":"3.7 K","t":9.625,"s":10.3},{"k":"3.7 K","t":9.75,"s":10.7},{"k":"3.7 K","t":9.875,"s":10.5},{"k":"3.7 K","t":9.95,"s":10.7},

        {"k":"4.0 K","t":0.04,"s":4.6},{"k":"4.0 K","t":0.125,"s":6.9},{"k":"4.0 K","t":0.25,"s":7.6},{"k":"4.0 K","t":0.375,"s":6.8},{"k":"4.0 K","t":0.47,"s":7.5},{"k":"4.0 K","t":0.547,"s":8.8},{"k":"4.0 K","t":0.6,"s":5.0},{"k":"4.0 K","t":0.66,"s":7.3},{"k":"4.0 K","t":0.75,"s":6.9},{"k":"4.0 K","t":0.875,"s":7.4},{"k":"4.0 K","t":1,"s":6.7},{"k":"4.0 K","t":1.125,"s":7.3},{"k":"4.0 K","t":1.25,"s":6.8},{"k":"4.0 K","t":1.375,"s":7.5},{"k":"4.0 K","t":1.5,"s":6.9},{"k":"4.0 K","t":1.625,"s":7.2},{"k":"4.0 K","t":1.75,"s":6.6},{"k":"4.0 K","t":1.875,"s":7.4},{"k":"4.0 K","t":2,"s":6.8},{"k":"4.0 K","t":2.125,"s":7.1},{"k":"4.0 K","t":2.25,"s":6.5},{"k":"4.0 K","t":2.375,"s":7.3},{"k":"4.0 K","t":2.5,"s":6.9},{"k":"4.0 K","t":2.625,"s":7.4},{"k":"4.0 K","t":2.75,"s":6.7},{"k":"4.0 K","t":2.875,"s":7.2},{"k":"4.0 K","t":3,"s":6.8},{"k":"4.0 K","t":3.125,"s":7.3},{"k":"4.0 K","t":3.25,"s":6.6},{"k":"4.0 K","t":3.375,"s":7.2},{"k":"4.0 K","t":3.5,"s":6.9},{"k":"4.0 K","t":3.625,"s":7.5},{"k":"4.0 K","t":3.75,"s":7.0},{"k":"4.0 K","t":3.875,"s":7.6},{"k":"4.0 K","t":4,"s":7.2},{"k":"4.0 K","t":4.125,"s":7.9},{"k":"4.0 K","t":4.25,"s":7.4},{"k":"4.0 K","t":4.375,"s":8.0},{"k":"4.0 K","t":4.5,"s":7.6},{"k":"4.0 K","t":4.625,"s":8.1},{"k":"4.0 K","t":4.75,"s":7.5},{"k":"4.0 K","t":4.875,"s":8.2},{"k":"4.0 K","t":5,"s":7.7},{"k":"4.0 K","t":5.125,"s":8.0},{"k":"4.0 K","t":5.25,"s":7.5},{"k":"4.0 K","t":5.375,"s":8.1},{"k":"4.0 K","t":5.5,"s":7.8},{"k":"4.0 K","t":5.625,"s":7.4},{"k":"4.0 K","t":5.75,"s":7.9},{"k":"4.0 K","t":5.875,"s":7.3},{"k":"4.0 K","t":6,"s":7.6},{"k":"4.0 K","t":6.125,"s":7.0},{"k":"4.0 K","t":6.25,"s":7.4},{"k":"4.0 K","t":6.375,"s":6.8},{"k":"4.0 K","t":6.5,"s":7.3},{"k":"4.0 K","t":6.625,"s":6.7},{"k":"4.0 K","t":6.75,"s":7.2},{"k":"4.0 K","t":6.875,"s":6.9},{"k":"4.0 K","t":7,"s":7.1},{"k":"4.0 K","t":7.125,"s":6.6},{"k":"4.0 K","t":7.25,"s":7.2},{"k":"4.0 K","t":7.375,"s":6.8},{"k":"4.0 K","t":7.5,"s":7.1},{"k":"4.0 K","t":7.625,"s":6.5},{"k":"4.0 K","t":7.75,"s":7.0},{"k":"4.0 K","t":7.875,"s":6.7},{"k":"4.0 K","t":8,"s":7.2},{"k":"4.0 K","t":8.125,"s":6.6},{"k":"4.0 K","t":8.25,"s":6.2},{"k":"4.0 K","t":8.375,"s":6.9},{"k":"4.0 K","t":8.5,"s":6.5},{"k":"4.0 K","t":8.625,"s":7.0},{"k":"4.0 K","t":8.75,"s":6.4},{"k":"4.0 K","t":8.875,"s":6.8},{"k":"4.0 K","t":9,"s":6.6},{"k":"4.0 K","t":9.125,"s":6.9},{"k":"4.0 K","t":9.25,"s":6.5},{"k":"4.0 K","t":9.375,"s":6.7},{"k":"4.0 K","t":9.5,"s":6.6},{"k":"4.0 K","t":9.625,"s":7.1},{"k":"4.0 K","t":9.75,"s":6.5},{"k":"4.0 K","t":9.875,"s":6.7},{"k":"4.0 K","t":9.95,"s":6.6},

        {"k":"4.1 K","t":0.04,"s":1.7},{"k":"4.1 K","t":0.125,"s":4.0},{"k":"4.1 K","t":0.25,"s":4.6},{"k":"4.1 K","t":0.375,"s":4.1},{"k":"4.1 K","t":0.5,"s":4.7},{"k":"4.1 K","t":0.625,"s":4.2},{"k":"4.1 K","t":0.75,"s":4.8},{"k":"4.1 K","t":0.875,"s":4.3},{"k":"4.1 K","t":1,"s":4.6},{"k":"4.1 K","t":1.125,"s":4.1},{"k":"4.1 K","t":1.25,"s":4.7},{"k":"4.1 K","t":1.375,"s":4.3},{"k":"4.1 K","t":1.5,"s":4.9},{"k":"4.1 K","t":1.625,"s":4.2},{"k":"4.1 K","t":1.75,"s":4.6},{"k":"4.1 K","t":1.875,"s":4.0},{"k":"4.1 K","t":2,"s":4.5},{"k":"4.1 K","t":2.125,"s":4.1},{"k":"4.1 K","t":2.25,"s":4.6},{"k":"4.1 K","t":2.375,"s":4.2},{"k":"4.1 K","t":2.5,"s":4.7},{"k":"4.1 K","t":2.625,"s":4.3},{"k":"4.1 K","t":2.75,"s":4.5},{"k":"4.1 K","t":2.875,"s":4.0},{"k":"4.1 K","t":3,"s":4.6},{"k":"4.1 K","t":3.125,"s":4.2},{"k":"4.1 K","t":3.25,"s":4.5},{"k":"4.1 K","t":3.375,"s":4.1},{"k":"4.1 K","t":3.5,"s":4.7},{"k":"4.1 K","t":3.625,"s":4.4},{"k":"4.1 K","t":3.75,"s":4.8},{"k":"4.1 K","t":3.875,"s":4.3},{"k":"4.1 K","t":4,"s":4.9},{"k":"4.1 K","t":4.125,"s":4.5},{"k":"4.1 K","t":4.25,"s":5.0},{"k":"4.1 K","t":4.375,"s":4.6},{"k":"4.1 K","t":4.5,"s":5.1},{"k":"4.1 K","t":4.625,"s":4.7},{"k":"4.1 K","t":4.75,"s":5.0},{"k":"4.1 K","t":4.875,"s":4.6},{"k":"4.1 K","t":5,"s":5.1},{"k":"4.1 K","t":5.125,"s":4.8},{"k":"4.1 K","t":5.25,"s":5.2},{"k":"4.1 K","t":5.375,"s":4.8},{"k":"4.1 K","t":5.5,"s":5.1},{"k":"4.1 K","t":5.625,"s":4.7},{"k":"4.1 K","t":5.75,"s":5.0},{"k":"4.1 K","t":5.875,"s":4.6},{"k":"4.1 K","t":6,"s":4.9},{"k":"4.1 K","t":6.125,"s":4.4},{"k":"4.1 K","t":6.25,"s":4.8},{"k":"4.1 K","t":6.375,"s":4.3},{"k":"4.1 K","t":6.5,"s":4.6},{"k":"4.1 K","t":6.625,"s":4.2},{"k":"4.1 K","t":6.75,"s":4.7},{"k":"4.1 K","t":6.875,"s":4.1},{"k":"4.1 K","t":7,"s":4.5},{"k":"4.1 K","t":7.125,"s":4.0},{"k":"4.1 K","t":7.25,"s":4.4},{"k":"4.1 K","t":7.375,"s":3.9},{"k":"4.1 K","t":7.5,"s":4.3},{"k":"4.1 K","t":7.625,"s":4.0},{"k":"4.1 K","t":7.75,"s":4.5},{"k":"4.1 K","t":7.875,"s":3.9},{"k":"4.1 K","t":8,"s":4.2},{"k":"4.1 K","t":8.125,"s":3.8},{"k":"4.1 K","t":8.25,"s":4.3},{"k":"4.1 K","t":8.375,"s":4.0},{"k":"4.1 K","t":8.5,"s":4.5},{"k":"4.1 K","t":8.625,"s":4.1},{"k":"4.1 K","t":8.75,"s":4.4},{"k":"4.1 K","t":8.875,"s":3.9},{"k":"4.1 K","t":9,"s":4.3},{"k":"4.1 K","t":9.125,"s":4.0},{"k":"4.1 K","t":9.25,"s":4.4},{"k":"4.1 K","t":9.375,"s":3.8},{"k":"4.1 K","t":9.5,"s":4.3},{"k":"4.1 K","t":9.625,"s":4.0},{"k":"4.1 K","t":9.75,"s":4.5},{"k":"4.1 K","t":9.875,"s":4.1},{"k":"4.1 K","t":9.95,"s":4.3}
      ]},
      "mark": {"type": "line", "stroke": "black", "strokeWidth": 3, "strokeJoin": "round", "strokeCap": "round", "interpolate": "monotone"},
      "encoding": {
        "x": {
          "field": "t", "type": "quantitative",
          "scale": {"domain": [0, 10], "nice": false, "zero": false},
          "axis": {
            "title": "Time (µsec)", "values": [10], "format": "d", "domain": false, "ticks": false, "grid": false,
            "labelFont": "Liberation Sans", "labelFontSize": 26, "labelFontWeight": "bold", "labelColor": "black",
            "labelPadding": 7, "labelOffset": 5, "labelFlush": false,
            "titleFontSize": 24, "titleFontWeight": "bold", "titleColor": "black", "titlePadding": 13
          }
        },
        "y": {
          "field": "s", "type": "quantitative",
          "scale": {"domain": [0, 63.1], "nice": false, "zero": false},
          "axis": {
            "title": "Signal (a.u.)", "values": [46.8, 42.8, 38.9, 34.7, 30.5, 26.7, 22.8, 19.0, 15.0, 11.2, 7.0, 4.2],
            "labels": false, "domain": false, "grid": false, "ticks": true, "tickSize": 5, "tickWidth": 2.5, "tickColor": "black",
            "titleFontSize": 28, "titleFontWeight": "bold", "titleColor": "black", "titlePadding": 46
          }
        },
        "detail": {"field": "k", "type": "nominal"}
      }
    },
    {
      "data": {"values": [
        {"t": -1.6, "t2": -1.287, "s": -9, "s2": 70},
        {"t": -1.6, "t2": 10.8, "s": 65.65, "s2": 70},
        {"t": 10.56, "t2": 10.8, "s": -9, "s2": 70}
      ]},
      "mark": {"type": "rect", "fill": "#FFFFCC", "stroke": null},
      "encoding": {
        "x": {"field": "t", "type": "quantitative"},
        "x2": {"field": "t2"},
        "y": {"field": "s", "type": "quantitative"},
        "y2": {"field": "s2"}
      }
    },
    {
      "data": {"values": [
        {"k": "1.9 K", "t": 8.6, "s": 48.4}, {"k": "2.1 K", "t": 8.6, "s": 44.2}, {"k": "2.3 K", "t": 8.6, "s": 40.0},
        {"k": "2.5 K", "t": 8.6, "s": 36.1}, {"k": "2.7 K", "t": 8.6, "s": 32.4}, {"k": "2.9 K", "t": 8.6, "s": 28.3},
        {"k": "3.1 K", "t": 8.6, "s": 23.9}, {"k": "3.3 K", "t": 8.6, "s": 20.2}, {"k": "3.6 K", "t": 8.6, "s": 16.4},
        {"k": "3.7 K", "t": 8.6, "s": 12.3}, {"k": "4.0 K", "t": 8.6, "s": 8.2}, {"k": "4.1 K", "t": 8.6, "s": 4.6}
      ]},
      "mark": {"type": "text", "font": "Liberation Sans", "fontSize": 18, "fontWeight": "bold", "color": "black", "align": "center", "baseline": "middle"},
      "encoding": {
        "x": {"field": "t", "type": "quantitative"},
        "y": {"field": "s", "type": "quantitative"},
        "text": {"field": "k"}
      }
    },
    {
      "data": {"values": [{"label": "I = 1.2·10⁶ W/cm²", "t": 5.45, "s": 57.8}]},
      "mark": {"type": "text", "font": "Liberation Sans", "fontSize": 27, "fontWeight": "bold", "color": "black", "align": "left", "baseline": "alphabetic"},
      "encoding": {
        "x": {"field": "t", "type": "quantitative"},
        "y": {"field": "s", "type": "quantitative"},
        "text": {"field": "label"}
      }
    },
    {
      "data": {"values": [{"t": -1.6, "t2": 10.076, "s": 4.0, "s2": -3.7}]},
      "mark": {"type": "rect", "fill": "#FFFFCC", "stroke": null},
      "encoding": {
        "x": {"field": "t", "type": "quantitative"},
        "x2": {"field": "t2"},
        "y": {"field": "s", "type": "quantitative"},
        "y2": {"field": "s2"}
      }
    },
    {
      "data": {"values": [{"label": "Transport of paraexcitons: super fluidity ?", "t": 9.76, "s": -1.9}]},
      "mark": {"type": "text", "font": "Liberation Sans", "fontSize": 47.8, "fontWeight": "bold", "color": "#0000FF", "align": "right", "baseline": "alphabetic"},
      "encoding": {
        "x": {"field": "t", "type": "quantitative"},
        "y": {"field": "s", "type": "quantitative"},
        "text": {"field": "label"}
      }
    },
    {
      "data": {"values": [{"t": -1.12, "s": 2.9, "t2": 1.953, "s2": 32.3}]},
      "mark": {"type": "rule", "color": "#0000FF", "strokeWidth": 13, "strokeCap": "butt"},
      "encoding": {
        "x": {"field": "t", "type": "quantitative"},
        "x2": {"field": "t2"},
        "y": {"field": "s", "type": "quantitative"},
        "y2": {"field": "s2"}
      }
    },
    {
      "data": {"values": [{"t": 1.953, "s": 32.3}]},
      "mark": {"type": "point", "shape": "M0,-1L0.5,0L-0.5,0Z", "filled": true, "size": 8464, "angle": 37, "color": "#0000FF", "opacity": 1, "strokeWidth": 0},
      "encoding": {
        "x": {"field": "t", "type": "quantitative"},
        "y": {"field": "s", "type": "quantitative"}
      }
    }
  ]
}
